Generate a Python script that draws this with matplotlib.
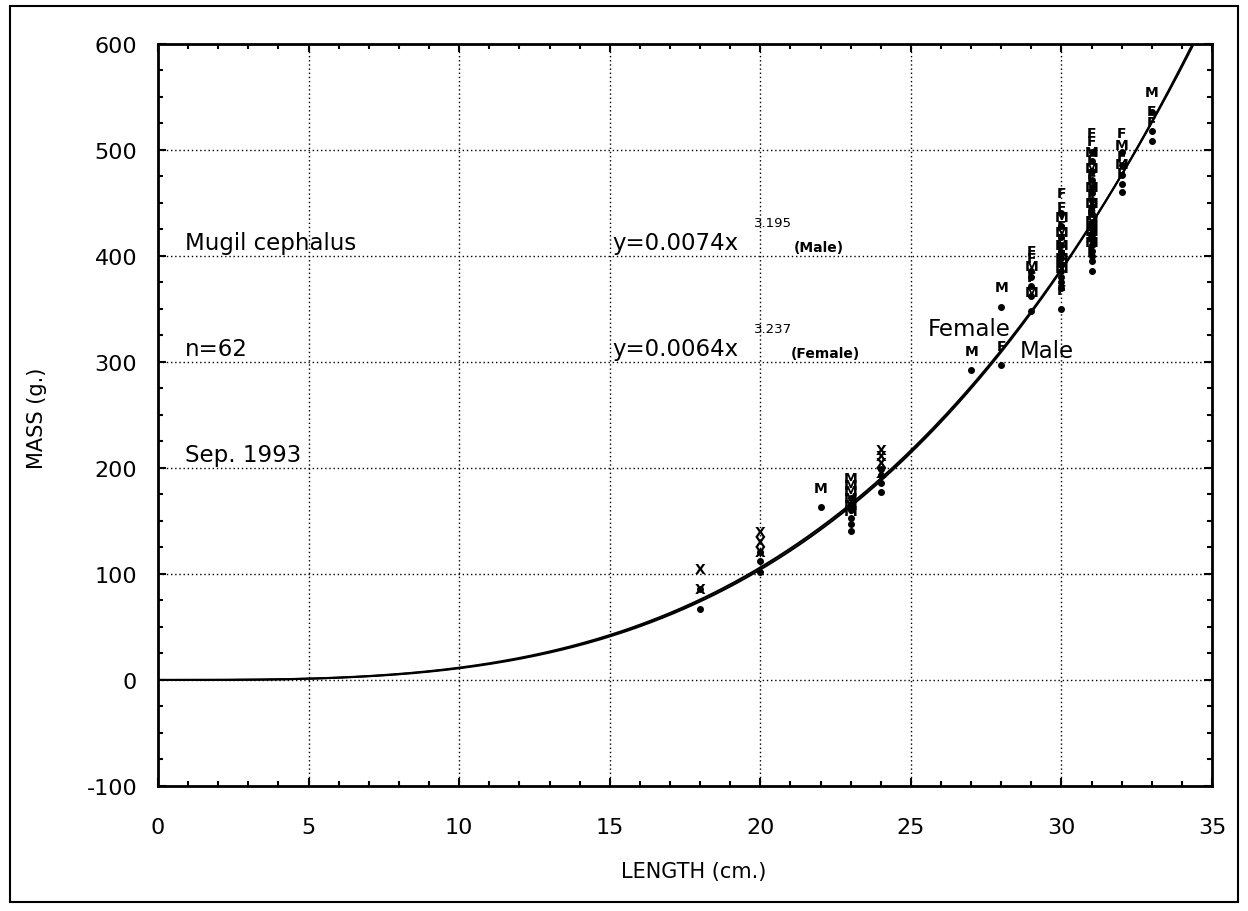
import numpy as np
import matplotlib.pyplot as plt
from matplotlib.patches import Rectangle

plt.rcParams["axes.unicode_minus"] = False

# length (cm) / mass (g) of each fish, with sex code (M, F, X = unsexed)
length = [18, 18,
          20, 20, 20,
          22,
          23, 23, 23, 23, 23, 23,
          24, 24, 24, 24,
          27,
          28, 28,
          29, 29, 29, 29, 29,
          30, 30, 30, 30, 30, 30, 30, 30, 30, 30, 30, 30,
          31, 31, 31, 31, 31, 31, 31, 31, 31, 31, 31, 31, 31, 31, 31, 31, 31, 31,
          32, 32, 32, 32, 32,
          33, 33, 33]
mass = [67, 86,
        102, 112, 121,
        163,
        141, 147, 153, 160, 166, 172,
        177, 186, 193, 199,
        292,
        352, 297,
        348, 362, 372, 380, 386,
        350, 370, 375, 380, 386, 392, 398, 404, 410, 418, 428, 441,
        386, 395, 400, 405, 410, 415, 420, 425, 432, 440, 447, 453, 459, 465, 472, 480, 490, 498,
        460, 468, 476, 486, 498,
        508, 518, 536]
sex = ["X", "X",
       "X", "X", "X",
       "M",
       "M", "M", "M", "M", "M", "M",
       "X", "X", "X", "X",
       "M",
       "M", "F",
       "M", "F", "M", "F", "F",
       "F", "M", "F", "M", "F", "M", "F", "M", "F", "M", "F", "F",
       "F", "M", "F", "M", "F", "M", "F", "F", "M", "F", "M", "F", "F", "M", "F", "M", "F", "F",
       "F", "M", "F", "M", "F",
       "F", "F", "M"]

# fitted length-weight relations  W = a * L^b
a_male, b_male = 0.0074, 3.195
a_female, b_female = 0.0064, 3.237

xticks = [0, 5, 10, 15, 20, 25, 30, 35]
yticks = [-100, 0, 100, 200, 300, 400, 500, 600]

fig = plt.figure(figsize=(12.48, 9.12), dpi=100)
ax = fig.add_axes([0.1266, 0.1371, 0.8446, 0.8136])

xs = np.linspace(0, 35, 500)
ax.plot(xs, a_male * xs ** b_male, color="black", lw=1.5)
ax.plot(xs, a_female * xs ** b_female, color="black", lw=1.5)

ax.plot(length, mass, "o", color="black", ms=4, ls="none")
for x, y, s in zip(length, mass, sex):
    ax.annotate(s, (x, y), xytext=(0, 14), textcoords="offset points",
                ha="center", va="center", fontsize=10, fontweight="bold")

ax.set_xlim(0, 35)
ax.set_ylim(-100, 600)
ax.set_xticks(xticks)
ax.set_yticks(yticks)
ax.set_xticks(np.arange(0, 36, 1), minor=True)
ax.set_yticks(np.arange(-100, 601, 25), minor=True)
ax.tick_params(which="both", direction="in", top=True, right=True, width=1.5)
ax.tick_params(which="major", length=6)
ax.tick_params(which="minor", length=3.5)
ax.tick_params(axis="x", labelsize=16, pad=22)
ax.tick_params(axis="y", labelsize=16, pad=15)
ax.grid(True, which="major", color="black", ls=(0, (1, 2)), lw=1)
for sp in ax.spines.values():
    sp.set_linewidth(2)

fs = 16.5
ax.text(0.9, 402, "Mugil cephalus", fontsize=fs, va="bottom")
ax.text(0.9, 302, "n=62", fontsize=fs, va="bottom")
ax.text(0.9, 202, "Sep. 1993", fontsize=fs, va="bottom")

ax.text(15.1, 402, "y=0.0074x", fontsize=fs, va="bottom")
ax.text(19.8, 425, "3.195", fontsize=9.5, va="bottom")
ax.text(21.1, 402, "(Male)", fontsize=10, va="bottom", fontweight="bold")
ax.text(15.1, 302, "y=0.0064x", fontsize=fs, va="bottom")
ax.text(19.8, 325, "3.237", fontsize=9.5, va="bottom")
ax.text(21.0, 302, "(Female)", fontsize=10, va="bottom", fontweight="bold")

ax.text(25.55, 325, "Female", fontsize=fs, va="baseline")
ax.text(28.6, 305, "Male", fontsize=fs, va="baseline")

fig.text(0.556, 1 - 872 / 912, "LENGTH (cm.)", fontsize=15, ha="center", va="center")
fig.text(37 / 1248, 1 - 418 / 912, "MASS (g.)", fontsize=15, ha="center", va="center",
         rotation=90)

fig.patches.append(Rectangle((10 / 1248, 1 - 903 / 912), 1228 / 1248, 896 / 912,
                             transform=fig.transFigure, fill=False, lw=1.5,
                             edgecolor="black"))

fig.savefig("out.png", dpi=100)
